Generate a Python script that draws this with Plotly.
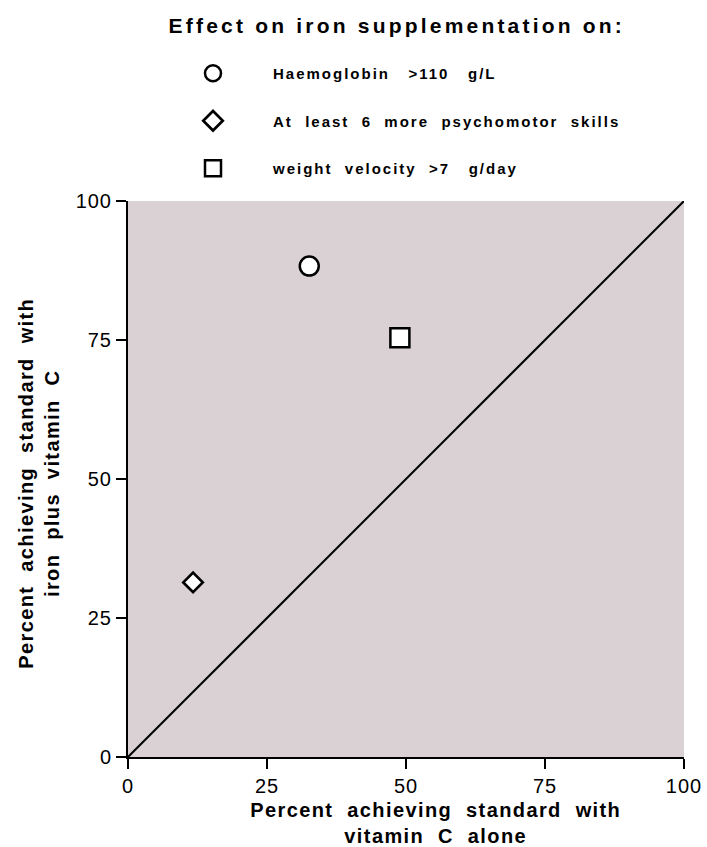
import plotly.graph_objects as go

series_names = ["Haemoglobin\u00a0\u00a0 >110\u00a0\u00a0 g/L",
                "At\u00a0 least\u00a0 6\u00a0 more\u00a0 psychomotor\u00a0 skills",
                "weight\u00a0 velocity\u00a0 >7\u00a0\u00a0 g/day"]
x_vitc_alone = [32.6, 11.7, 48.9]
y_iron_vitc = [88.3, 31.4, 75.4]
symbols = ["circle", "diamond", "square"]
sizes = [19, 15, 19]
tick_vals = [0, 25, 50, 75, 100]
tick_text = ["0", "25", "50", "75", "100"]
title_text = "Effect on iron supplementation on:"
x_title = "Percent\u00a0 achieving\u00a0 standard\u00a0 with<br>vitamin\u00a0 C\u00a0 alone"
y_title = "Percent\u00a0 achieving\u00a0 standard\u00a0 with<br>iron\u00a0 plus\u00a0 vitamin\u00a0 C"

FONT = "Liberation Sans, Arial, sans-serif"

fig = go.Figure()
# line of equality
fig.add_trace(go.Scatter(x=[0, 100], y=[0, 100], mode="lines",
                         line=dict(color="black", width=2), showlegend=False, hoverinfo="skip"))
for i in range(3):
    fig.add_trace(go.Scatter(
        x=[x_vitc_alone[i]], y=[y_iron_vitc[i]], mode="markers", name=series_names[i],
        legendgroup=f"g{i}",
        marker=dict(symbol=symbols[i], size=sizes[i], color="white",
                    line=dict(color="black", width=2.7 if symbols[i] == "diamond" else 2.5))))

fig.update_layout(
    width=707, height=847,
    margin=dict(l=128, r=23, t=201, b=90, autoexpand=False),
    paper_bgcolor="white", plot_bgcolor="#D9D1D3",
    font=dict(family=FONT, color="black"),
    showlegend=True,
    legend=dict(x=(153 - 128) / 556, y=1 + (201 - 57) / 556,
                xanchor="left", yanchor="top", traceorder="grouped", tracegroupgap=25,
                itemwidth=110, font=dict(size=15, family=FONT, weight="bold"),
                bgcolor="rgba(0,0,0,0)"),
    annotations=[
        dict(text=title_text, xref="paper", yref="paper",
             x=(397 - 128) / 556, y=1 + (201 - 26) / 556, xanchor="center", yanchor="middle",
             showarrow=False, font=dict(size=21, weight="bold")),
        dict(text=x_title, xref="paper", yref="paper",
             x=(435 - 128) / 556, y=(757 - 797) / 556, xanchor="center", yanchor="top",
             showarrow=False, font=dict(size=20, weight="bold")),
        dict(text=y_title, xref="paper", yref="paper", textangle=-90,
             x=(39 - 128) / 556, y=(757 - 484) / 556, xanchor="center", yanchor="middle",
             showarrow=False, font=dict(size=20, weight="bold")),
    ],
)
axis_common = dict(range=[0, 100], tickvals=tick_vals, ticktext=tick_text,
                   showgrid=False, zeroline=False, showline=True, linecolor="black", linewidth=2,
                   ticks="outside", ticklen=10, tickwidth=2, tickcolor="black",
                   tickfont=dict(size=20))
fig.update_xaxes(**axis_common)
fig.update_yaxes(**axis_common)

post = """
document.body.style.margin = '0';
document.body.style.overflow = 'hidden';
var gd = document.getElementById('{plot_id}');
function sp(){
  gd.querySelectorAll('g.annotation[data-index="0"] text').forEach(function(t){t.style.letterSpacing='3.2px';});
  gd.querySelectorAll('g.annotation[data-index="1"] text, g.annotation[data-index="2"] text').forEach(function(t){t.style.letterSpacing='1.4px';});
  gd.querySelectorAll('text.legendtext').forEach(function(t){t.style.letterSpacing='2px';});
  gd.querySelectorAll('g.xtick text, g.ytick text').forEach(function(t){t.style.letterSpacing='1px';});
  gd.querySelectorAll('g.legend g.scrollbox').forEach(function(g){g.removeAttribute('clip-path');});
}
sp();
if (gd.on) { gd.on('plotly_afterplot', sp); }
setTimeout(sp, 30);
"""

fig.write_html("out.html", post_script=post, config={"displayModeBar": False})
